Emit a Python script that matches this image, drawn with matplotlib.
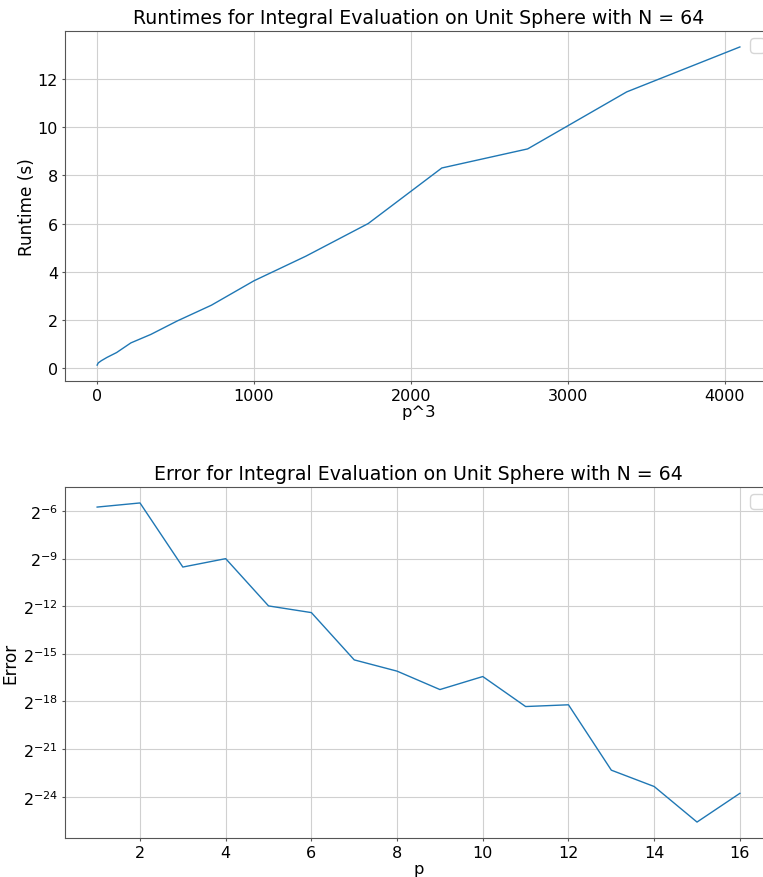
import numpy as np
import matplotlib
matplotlib.use("Agg")
import matplotlib.pyplot as plt

p = [1, 2, 3, 4, 5, 6, 7, 8, 9, 10, 11, 12, 13, 14, 15, 16]
p_cubed = [1, 8, 27, 64, 125, 216, 343, 512, 729, 1000, 1331, 1728, 2197, 2744, 3375, 4096]
runtimes = [0.14, 0.23, 0.32, 0.46, 0.66, 1.06, 1.41, 1.97, 2.62, 3.63, 4.65, 6.0,
            8.30, 9.09, 11.45, 13.31]
errors = [0.01858, 0.02225, 0.001353, 0.001953, 0.0002476, 0.0001850, 2.345e-5, 1.434e-5,
          6.416e-6, 1.133e-5, 3.056e-6, 3.298e-6, 1.897e-7, 9.29e-8, 1.966e-8, 6.894e-8]

fig = plt.figure(figsize=(7.63, 8.78), dpi=100)

# axes run slightly past the right edge of the figure, like the original
ax1 = fig.add_axes([0.0852, 0.5649, 0.9266, 0.3986])
ax2 = fig.add_axes([0.0852, 0.0444, 0.9266, 0.3998])

for ax in (ax1, ax2):
    ax.grid(True, color="#d0d0d0", linewidth=0.8)
    ax.set_axisbelow(True)
    for s in ax.spines.values():
        s.set_color("#555555")
    ax.tick_params(labelsize=11.5, length=2.5, pad=2.5, color="#555555")

# runtime vs p^3
ax1.plot(p_cubed, runtimes, color="#1f77b4", linewidth=1)
ax1.set_title("Runtimes for Integral Evaluation on Unit Sphere with N = 64", fontsize=13.6)
ax1.set_xlabel("p^3", fontsize=11.8, labelpad=1)
ax1.set_ylabel("Runtime (s)", fontsize=12.2, labelpad=1.5)
ax1.legend(fontsize=13, borderaxespad=0.4)

# error vs p
ax2.plot(p, errors, color="#1f77b4", linewidth=1)
ax2.set_yscale("log", base=2)
ax2.set_title("Error for Integral Evaluation on Unit Sphere with N = 64", fontsize=13.6)
ax2.set_xlabel("p", fontsize=11.8, labelpad=1)
ax2.set_ylabel("Error", fontsize=12.2, labelpad=2.5)
ax2.legend(fontsize=13, borderaxespad=0.4)

fig.savefig("out.png", dpi=100)
